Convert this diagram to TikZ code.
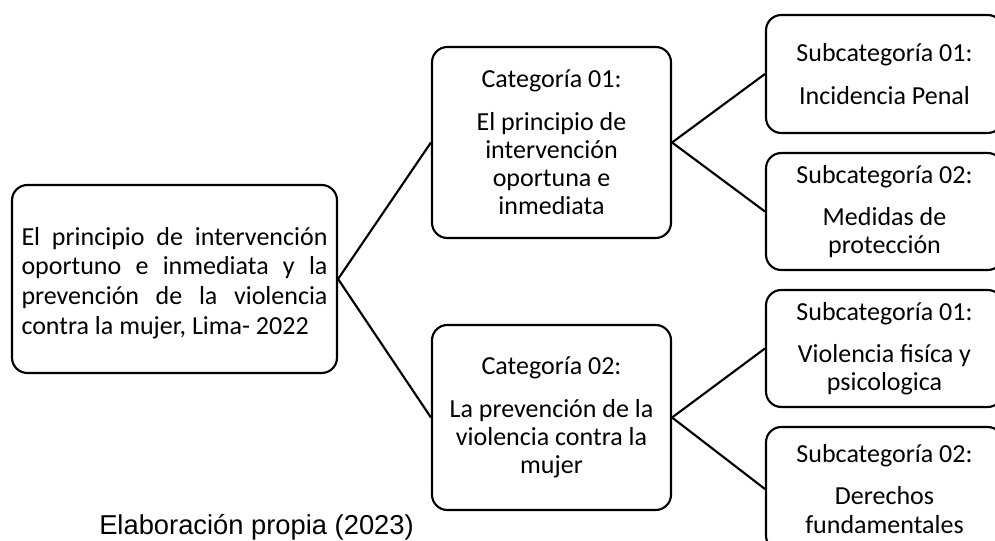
\documentclass[tikz,border=0pt]{standalone}
\usepackage{fontspec}
\setmainfont{Carlito}
\newfontfamily\fuentefont{Liberation Sans}

\begin{document}
\begin{tikzpicture}[x=0.75pt,y=0.75pt,yscale=-1,xscale=1,
  caja/.style={draw, line width=1.6pt, rounded corners=11.5pt, align=center, inner sep=0pt,
    font=\fontsize{19.5}{21.2}\selectfont},
  enlace/.style={line width=1.6pt}]
\useasboundingbox (0,0) rectangle (995,541);
\clip (0,0) rectangle (995,541);
%Rounded Rect [id:root]
\node [caja, minimum width=243.75pt, minimum height=141pt] (root) at (174.5,279)
  {\parbox{229.5pt}{\vspace*{6pt}\fontsize{19.5}{22.3}\selectfont
    \makebox[229.5pt][s]{El principio de intervención}\\
    \makebox[229.5pt][s]{oportuno e inmediata y la}\\
    \makebox[229.5pt][s]{prevención de la violencia}\\
    contra la mujer, Lima- 2022}};
%Rounded Rect [id:cat1]
\node [caja, minimum width=179.25pt, minimum height=143.25pt] (cat1) at (551.5,142.5)
  {Categoría 01:\\[10.5pt]El principio de\\intervención\\oportuna e\\inmediata};
%Rounded Rect [id:cat2]
\node [caja, minimum width=179.25pt, minimum height=138.75pt] (cat2) at (551.5,417.5)
  {Categoría 02:\\[10.5pt]La prevención de la\\violencia contra la\\mujer};
%Rounded Rect [id:sub1]
\node [caja, minimum width=177.75pt, minimum height=88.5pt] (sub1) at (884.5,74)
  {Subcategoría 01:\\[10.5pt]Incidencia Penal};
%Rounded Rect [id:sub2]
\node [caja, minimum width=177.75pt, minimum height=87.75pt] (sub2) at (884.5,211.5)
  {Subcategoría 02:\\[10.5pt]Medidas de\\protección};
%Rounded Rect [id:sub3]
\node [caja, minimum width=177.75pt, minimum height=87.75pt] (sub3) at (884.5,348.5)
  {Subcategoría 01:\\[10.5pt]Violencia fisíca y\\psicologica};
%Rounded Rect [id:sub4]
\node [caja, minimum width=177.75pt, minimum height=93pt] (sub4) at (884.5,489)
  {Subcategoría 02:\\[10.5pt]Derechos\\fundamentales};
%Straight Lines
\draw [enlace] (root.east) -- (cat1.west);
\draw [enlace] (root.east) -- (cat2.west);
\draw [enlace] (cat1.east) -- (sub1.west);
\draw [enlace] (cat1.east) -- (sub2.west);
\draw [enlace] (cat2.east) -- (sub3.west);
\draw [enlace] (cat2.east) -- (sub4.west);
%Text
\node [anchor=base west, inner sep=0pt, font=\fuentefont\fontsize{20.5}{24}\selectfont] (fuente) at (99,534)
  {Elaboración propia (2023)};
\end{tikzpicture}
\end{document}
